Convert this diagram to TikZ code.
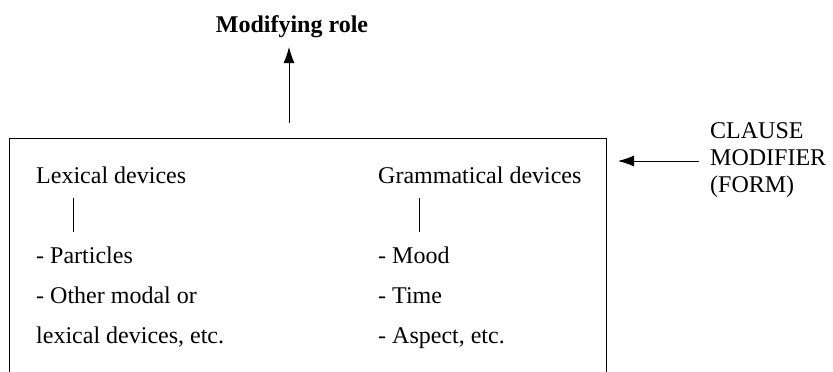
\documentclass[tikz,border=0pt]{standalone}
\usepackage{fontspec}
\setmainfont{Liberation Serif}
\usetikzlibrary{arrows.meta}
\begin{document}
\begin{tikzpicture}[x=1pt,y=-1pt,
  lbl/.style={anchor=base west, inner sep=0pt, font=\fontsize{24}{27}\selectfont},
  title/.style={anchor=base, inner sep=0pt, font=\fontsize{24}{27}\selectfont\bfseries},
  rule/.style={line width=0.9pt},
  arr/.style={line width=0.9pt, -{Latex[length=16pt,width=11pt]}}]
\useasboundingbox (0,0) rectangle (833,372);

% open frame around the two device groups
\coordinate (frameBL) at (9,372);
\coordinate (frameTL) at (9,138);
\coordinate (frameTR) at (606,138);
\coordinate (frameBR) at (606,372);
\draw[rule] (frameBL) -- (frameTL) -- (frameTR) -- (frameBR);

% role on top
\node[title] (role) at (292,32) {Modifying role};
\coordinate (roleFrom) at (289,123);
\coordinate (roleTo) at (289,47);
\draw[arr] (roleFrom) -- (roleTo);

% form label on the right
\node[lbl] (clause) at (710,138) {CLAUSE};
\node[lbl] (modifier) at (710,165) {MODIFIER};
\node[lbl] (form) at (710,192) {(FORM)};
\coordinate (formFrom) at (699,161);
\coordinate (formTo) at (618,161);
\draw[arr] (formFrom) -- (formTo);

% lexical devices
\node[lbl] (lex) at (36,183) {Lexical devices};
\node[lbl] (lex1) at (36,263) {- Particles};
\node[lbl] (lex2) at (36,303) {- Other modal or};
\node[lbl] (lex3) at (36,343) {lexical devices, etc.};
\coordinate (lexTop) at (73,198);
\coordinate (lexBot) at (73,232);
\draw[rule] (lexTop) -- (lexBot);

% grammatical devices
\node[lbl] (gram) at (378,183) {Grammatical devices};
\node[lbl] (gram1) at (378,263) {- Mood};
\node[lbl] (gram2) at (378,303) {- Time};
\node[lbl] (gram3) at (378,343) {- Aspect, etc.};
\coordinate (gramTop) at (419,198);
\coordinate (gramBot) at (419,232);
\draw[rule] (gramTop) -- (gramBot);
\end{tikzpicture}
\end{document}
